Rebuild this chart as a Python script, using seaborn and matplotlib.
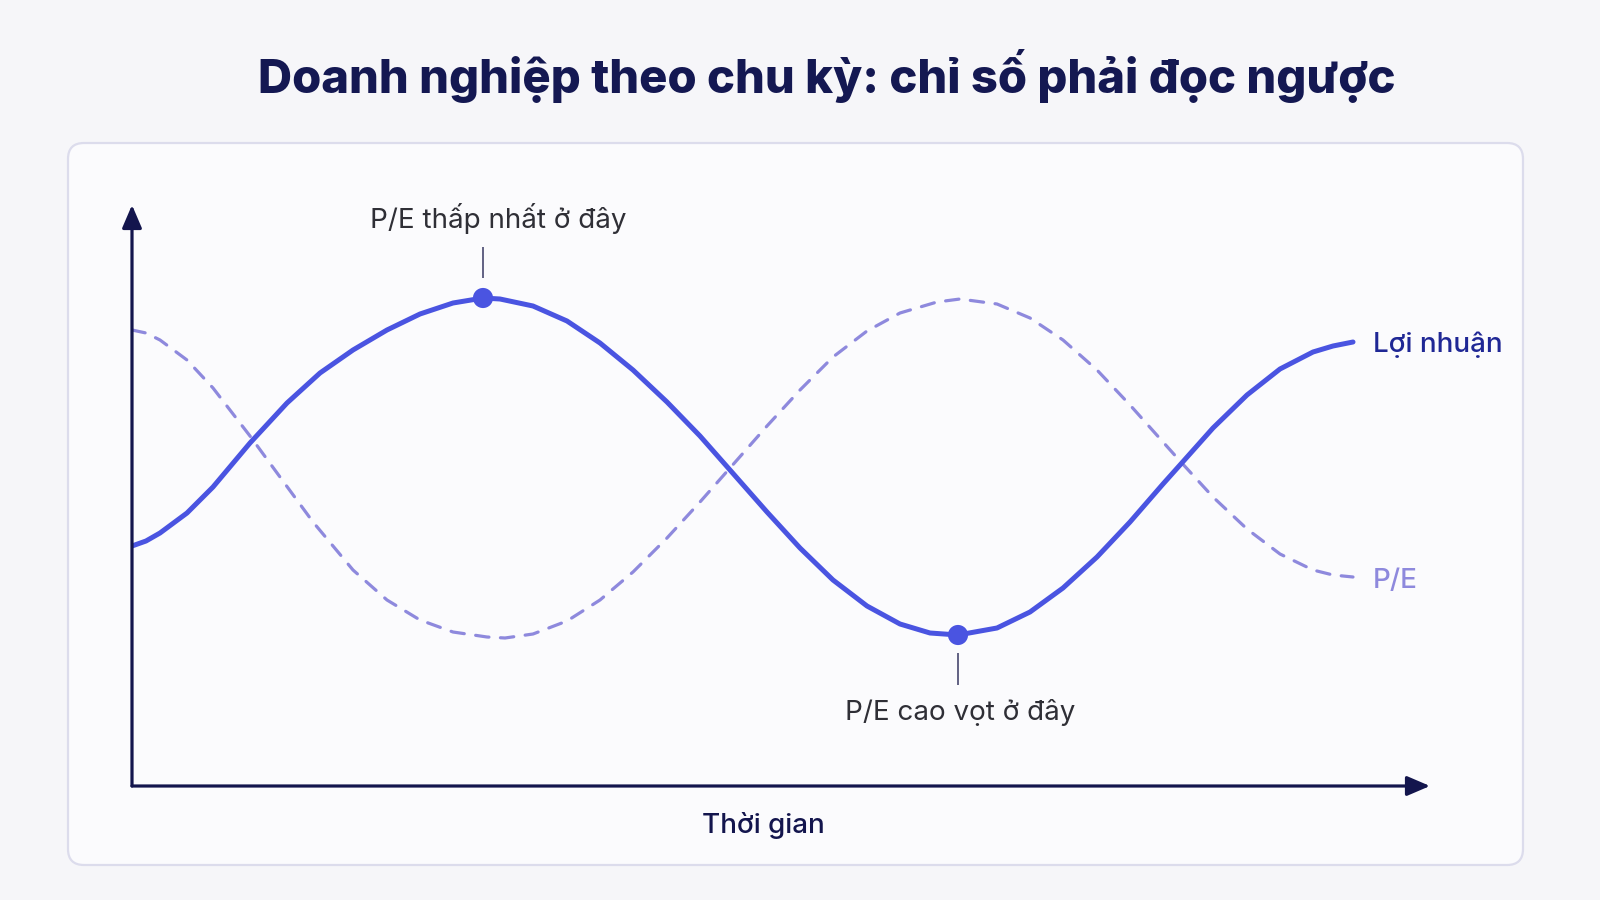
import matplotlib
matplotlib.use("Agg")
import numpy as np
import pandas as pd
import matplotlib.pyplot as plt
import seaborn as sns
from matplotlib.patches import FancyBboxPatch

# ---------------- data ----------------
time_loi = [0, 1.4, 2.8, 5.5, 8.1, 11.8, 15.5, 18.8, 22.1, 25.5, 28.8, 32.1, 35.1,
            36.8, 40.1, 43.5, 46.8, 50.1, 53.5, 56.8, 59.8, 63.5, 66.8, 70.1,
            73.5, 76.8, 79.8, 82.6, 86.5, 89.8, 93.1, 96.5, 99.8, 103.1, 104.8,
            108.1, 111.5, 114.8, 118.1, 120.1, 122.1]
loi_nhuan = [24.0, 24.5, 25.3, 27.3, 29.9, 34.3, 38.3, 41.3, 43.6, 45.6, 47.2, 48.3, 48.8,
             48.7, 48.0, 46.5, 44.3, 41.6, 38.4, 35.0, 31.6, 27.4, 23.8, 20.6,
             18.0, 16.2, 15.3, 15.1, 15.8, 17.4, 19.8, 22.9, 26.4, 30.2, 32.1,
             35.8, 39.1, 41.7, 43.4, 44.0, 44.4]

time_pe = [0, 1.4, 2.8, 5.5, 8.1, 11.8, 14.8, 18.1, 22.1, 25.5, 28.8, 32.1, 35.5,
           37.3, 40.1, 43.5, 46.8, 50.1, 53.5, 56.8, 59.8, 63.5, 66.8, 70.1,
           73.5, 76.8, 80.5, 82.8, 86.5, 89.8, 93.1, 96.5, 99.8, 103.1, 104.8,
           108.1, 111.5, 114.8, 118.1, 120.1, 122.1]
pe_ratio = [45.6, 45.3, 44.6, 42.6, 39.8, 35.0, 30.9, 26.4, 21.6, 18.6, 16.6, 15.4, 14.9,
            14.8, 15.2, 16.5, 18.6, 21.4, 24.8, 28.4, 31.8, 36.0, 39.6, 42.9,
            45.5, 47.3, 48.4, 48.7, 48.2, 46.8, 44.6, 41.6, 38.1, 34.4, 32.5,
            28.9, 25.7, 23.2, 21.6, 21.1, 20.9]

highlight_t = [35.1, 82.6]
highlight_v = [48.8, 15.1]
highlight_labels = ["P/E thấp nhất ở đây", "P/E cao vọt ở đây"]

series_names = ["Lợi nhuận", "P/E"]
title_text = "Doanh nghiệp theo chu kỳ: chỉ số phải đọc ngược"
x_label = "Thời gian"

# ---------------- styling ----------------
sns.set_theme(style="white")
plt.rcParams["font.family"] = ["Inter", "DejaVu Sans"]

BG = "#f6f6f9"
PANEL = "#fbfbfd"
PANEL_EDGE = "#dcdcec"
NAVY = "#13154d"
SOLID = "#4a54e1"
DASHED = "#8e89dd"
LABEL_DARK = "#2f2f36"
TICK = "#55557a"

fig = plt.figure(figsize=(16, 9), dpi=100, facecolor=BG)

panel = FancyBboxPatch((0.68, 0.35), 14.55, 7.22,
                       boxstyle="round,pad=0,rounding_size=0.16",
                       transform=fig.dpi_scale_trans,
                       facecolor=PANEL, edgecolor=PANEL_EDGE, linewidth=1.6,
                       zorder=0)
fig.add_artist(panel)

ax = fig.add_axes([132 / 1600, (900 - 786) / 900, (1430 - 132) / 1600, (786 - 205) / 900])
ax.patch.set_alpha(0)

df_loi = pd.DataFrame({"t": time_loi, "v": loi_nhuan})
df_pe = pd.DataFrame({"t": time_pe, "v": pe_ratio})

sns.lineplot(data=df_pe, x="t", y="v", ax=ax, color=DASHED, linewidth=2.3,
             linestyle=(0, (4.2, 3.6)), dash_capstyle="round", dash_joinstyle="round",
             estimator=None, sort=False, zorder=2)
sns.lineplot(data=df_loi, x="t", y="v", ax=ax, color=SOLID, linewidth=3.6,
             estimator=None, sort=False, zorder=3, solid_capstyle="round",
             solid_joinstyle="round")
sns.scatterplot(x=highlight_t, y=highlight_v, ax=ax, s=210, color=SOLID,
                edgecolor="none", zorder=4)

ax.set_xlim(0, 129.8)
ax.set_ylim(0, 58.1)
ax.set_xticks([])
ax.set_yticks([])
ax.set_xlabel("")
ax.set_ylabel("")
sns.despine(ax=ax, left=True, bottom=True, top=True, right=True)

# axis arrows
arrow_kw = dict(arrowstyle="-|>,head_length=0.7,head_width=0.3", color=NAVY,
                lw=2.3, shrinkA=0, shrinkB=0, mutation_scale=20)
ax.annotate("", xy=(1, 0), xytext=(0, 0), xycoords="axes fraction",
            arrowprops=arrow_kw, annotation_clip=False)
ax.annotate("", xy=(0, 1), xytext=(0, 0), xycoords="axes fraction",
            arrowprops=arrow_kw, annotation_clip=False)

# highlight ticks and labels
ax.vlines(highlight_t[0], highlight_v[0] + 2.0, highlight_v[0] + 5.1, color=TICK, lw=1.3)
ax.text(highlight_t[0] + 1.5, highlight_v[0] + 7.0, highlight_labels[0], ha="center",
        va="baseline", fontsize=20, color=LABEL_DARK, clip_on=False)
ax.vlines(highlight_t[1], highlight_v[1] - 1.8, highlight_v[1] - 5.0, color=TICK, lw=1.3)
ax.text(highlight_t[1] + 0.2, highlight_v[1] - 8.5, highlight_labels[1], ha="center",
        va="baseline", fontsize=20, color=LABEL_DARK, clip_on=False)

# end-of-line labels
ax.text(time_loi[-1] + 2.0, loi_nhuan[-1] - 1.0, series_names[0], ha="left",
        va="baseline", fontsize=20, color="#1f2795", fontweight="medium", clip_on=False)
ax.text(time_pe[-1] + 2.0, pe_ratio[-1] - 1.1, series_names[1], ha="left",
        va="baseline", fontsize=20, color=DASHED, fontweight="medium", clip_on=False)

# axis label and title
fig.text(763 / 1600, 1 - 833 / 900, x_label, ha="center", va="baseline",
         fontsize=20, color=NAVY, fontweight="medium")
fig.text(827 / 1600, 1 - 93 / 900, title_text, ha="center", va="baseline",
         fontsize=34, color="#141852", fontweight="heavy")

fig.savefig("out.png", dpi=100, facecolor=BG)
